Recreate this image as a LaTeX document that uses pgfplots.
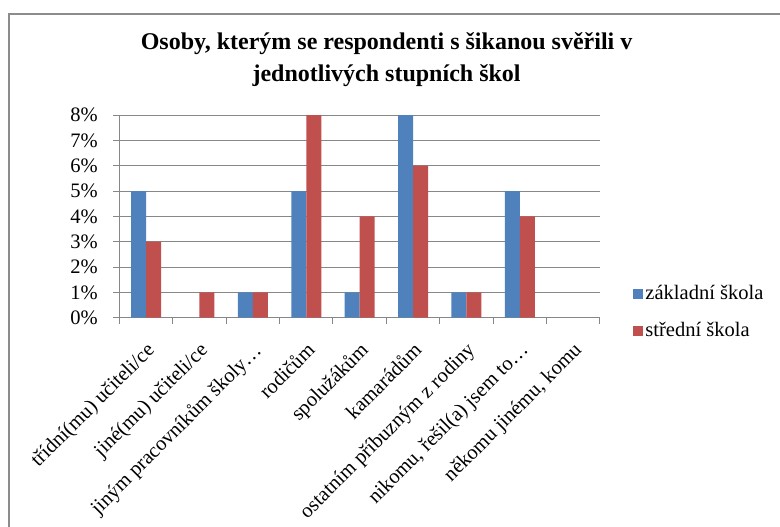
\documentclass[border=0pt]{standalone}
\usepackage{fontspec}
\setmainfont{Liberation Serif}
\usepackage{pgfplots}
\pgfplotsset{compat=1.18}
\definecolor{zs}{HTML}{4F81BD}
\definecolor{ss}{HTML}{C0504D}
\definecolor{gridc}{HTML}{878787}
\definecolor{framec}{HTML}{8C8C8C}

\begin{document}
\begin{tikzpicture}
  % page = 780 x 527 px, 1 px = 0.75 pt
  \begin{scope}[x=0.75pt,y=-0.75pt]
    \useasboundingbox (0,0) rectangle (780,527);
    \draw[framec, line width=1.5pt] (9,530) -- (9,14) -- (783,14);
  \end{scope}
  \begin{axis}[
    at={(89.5pt,-238.3pt)}, anchor=south west,
    scale only axis, width=360.5pt, height=152pt,
    xmin=-0.5, xmax=8.5, ymin=0, ymax=8,
    ybar=0pt, bar width=11.25pt,
    axis lines*=left,
    axis line style={-, draw=gridc, line width=0.75pt},
    xtick={0,...,8},
    xticklabels={třídní(mu) učiteli/ce, jiné(mu) učiteli/ce,
      jiným pracovníkům školy…, rodičům, spolužákům, kamarádům,
      ostatním příbuzným z rodiny, {nikomu, řešil(a) jsem to…},
      {někomu jinému, komu}},
    minor xtick={-0.5,0.5,...,8.5},
    major x tick style={draw=none},
    minor x tick style={draw=gridc, line width=0.75pt},
    y tick style={draw=gridc, line width=0.75pt},
    tick align=outside, major tick length=4.5pt, minor tick length=4.5pt,
    ytick={0,...,8},
    yticklabel={\pgfmathprintnumber{\tick}\%},
    /pgf/number format/assume math mode=true,
    ymajorgrids, grid style={draw=gridc, line width=0.75pt},
    ticklabel style={font=\fontsize{15.4}{18}\selectfont},
    yticklabel style={inner sep=0pt, xshift=-11.5pt},
    xticklabel style={rotate=45, anchor=north east, inner sep=0pt, yshift=-8.5pt, xshift=-9.5pt},
    title={Osoby, kterým se respondenti s šikanou svěřili v\\jednotlivých stupních škol},
    title style={font=\bfseries\fontsize{18}{24}\selectfont, align=center,
      at={(0.556,1.232)}, anchor=center},
    legend style={draw=none, fill=none, inner sep=0pt,
      at={(1.069,0.028)}, anchor=west,
      font=\fontsize{15.4}{18}\selectfont, row sep=15.5pt,
      nodes={inner xsep=1.5pt, inner ysep=0pt}},
    legend cell align=left,
    every axis plot post/.append style={
      legend image code/.code={\fill[##1] (0pt,-3.75pt) rectangle (7.5pt,3.75pt);}},
  ]
    \addplot[fill=zs, draw=none] coordinates {
      (0,5) (2,1) (3,5) (4,1) (5,8) (6,1) (7,5)};
    \addplot[fill=ss, draw=none] coordinates {
      (0,3) (1,1) (2,1) (3,8) (4,4) (5,6) (6,1) (7,4)};
    \legend{základní škola, střední škola}
  \end{axis}
\end{tikzpicture}
\end{document}
